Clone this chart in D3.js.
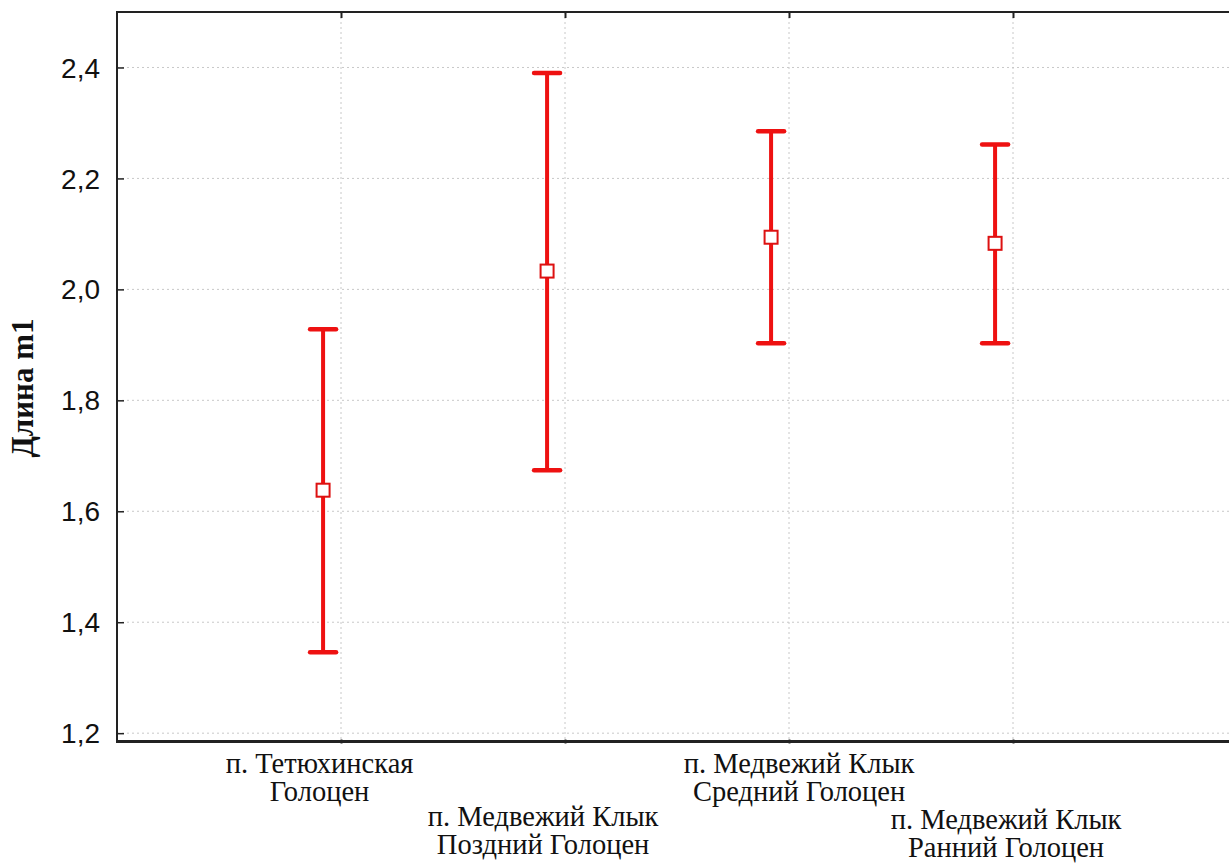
<!DOCTYPE html>
<html><head><meta charset="utf-8">
<script src="https://cdn.jsdelivr.net/npm/d3@7"></script>
<style>html,body{margin:0;padding:0;background:#fff;}svg{display:block;}</style>
</head><body>
<script>
const categories = [
  ["п. Тетюхинская", "Голоцен"],
  ["п. Медвежий Клык", "Поздний Голоцен"],
  ["п. Медвежий Клык", "Средний Голоцен"],
  ["п. Медвежий Клык", "Ранний Голоцен"]
];
const means = [1.638, 2.033, 2.094, 2.083];
const lower = [1.346, 1.674, 1.903, 1.903];
const upper = [1.928, 2.390, 2.285, 2.261];
const yTicks = [1.2, 1.4, 1.6, 1.8, 2.0, 2.2, 2.4];
const yTitle = "Длина m1";

(function () {
const W = 1229, H = 863;
const svg = d3.select("body").append("svg").attr("width", W).attr("height", H);
const pLeft = 117, pTop = 12, pBottom = 741.5;
const x = d3.scaleLinear().domain([0, 5]).range([pLeft, 1237]);
const y = d3.scaleLinear().domain([1.185, 2.5]).range([pBottom, pTop]);
const catPos = i => x(i + 1 - 0.08);
const fmt = v => d3.format(".1f")(v).replace(".", ",");

// grid
const grid = svg.append("g").attr("stroke", "#c8c8c8").attr("stroke-width", 1).attr("stroke-dasharray", "2,3");
grid.selectAll(".hg").data(yTicks).join("line")
  .attr("x1", pLeft).attr("x2", W).attr("y1", d => y(d)).attr("y2", d => y(d));
grid.selectAll(".vg").data([1, 2, 3, 4]).join("line")
  .attr("y1", pTop).attr("y2", pBottom).attr("x1", d => x(d)).attr("x2", d => x(d));

// Y axis
const yAxis = d3.axisRight(y).tickValues(yTicks).tickSize(7).tickFormat("");
const ya = svg.append("g").attr("transform", `translate(${pLeft},0)`).call(yAxis);
ya.select(".domain").remove();
ya.selectAll(".tick line").attr("stroke", "#222").attr("stroke-width", 1.5);
svg.append("g").selectAll("text").data(yTicks).join("text")
  .attr("x", 100).attr("y", d => y(d)).attr("dy", "0.36em")
  .attr("text-anchor", "end").attr("font-family", "Liberation Sans, Arial, sans-serif")
  .attr("font-size", 28).attr("fill", "#111").text(fmt);

// top and bottom x axes (ticks only)
const xTopAx = d3.axisBottom(x).tickValues([1, 2, 3, 4]).tickSize(6).tickFormat("");
const xt = svg.append("g").attr("transform", `translate(0,${pTop})`).call(xTopAx);
xt.select(".domain").remove();
xt.selectAll(".tick line").attr("stroke", "#222").attr("stroke-width", 2);
const xBotAx = d3.axisTop(x).tickValues([1, 2, 3, 4]).tickSize(4).tickFormat("");
const xb = svg.append("g").attr("transform", `translate(0,${pBottom + 2})`).call(xBotAx);
xb.select(".domain").remove();
xb.selectAll(".tick line").attr("stroke", "#222").attr("stroke-width", 2);

// frame lines
svg.append("line").attr("x1", pLeft).attr("x2", W).attr("y1", pTop).attr("y2", pTop).attr("stroke", "#222").attr("stroke-width", 2);
svg.append("line").attr("x1", pLeft).attr("x2", pLeft).attr("y1", pTop - 1).attr("y2", pBottom + 1).attr("stroke", "#222").attr("stroke-width", 2);
svg.append("line").attr("x1", pLeft - 1).attr("x2", W).attr("y1", pBottom).attr("y2", pBottom).attr("stroke", "#222").attr("stroke-width", 3);

// error bars
const red = "#ee1111";
const g = svg.append("g");
const idx = d3.range(means.length);
g.selectAll(".whisk").data(idx).join("line")
  .attr("x1", catPos).attr("x2", catPos)
  .attr("y1", i => y(lower[i])).attr("y2", i => y(upper[i]))
  .attr("stroke", red).attr("stroke-width", 4);
const capW = 13;
g.selectAll(".capu").data(idx).join("line")
  .attr("x1", i => catPos(i) - capW).attr("x2", i => catPos(i) + capW)
  .attr("y1", i => y(upper[i])).attr("y2", i => y(upper[i]))
  .attr("stroke", red).attr("stroke-width", 4.5).attr("stroke-linecap", "round");
g.selectAll(".capl").data(idx).join("line")
  .attr("x1", i => catPos(i) - capW).attr("x2", i => catPos(i) + capW)
  .attr("y1", i => y(lower[i])).attr("y2", i => y(lower[i]))
  .attr("stroke", red).attr("stroke-width", 4.5).attr("stroke-linecap", "round");
g.selectAll(".pt").data(idx).join("rect")
  .attr("x", i => catPos(i) - 6.5).attr("y", i => y(means[i]) - 6.5)
  .attr("width", 13).attr("height", 13)
  .attr("fill", "#fff").attr("stroke", "#dd1111").attr("stroke-width", 2);

// category labels (staggered), one text element per category
const labelDx = [-3.5, -4, 28, 11];
const labelBase = [773, 826, 773, 829];
const lab = svg.append("g").attr("font-family", "Liberation Serif, Times New Roman, serif")
  .attr("font-size", 28.5).attr("fill", "#111").attr("text-anchor", "middle");
categories.forEach((c, i) => {
  const t = lab.append("text").attr("x", catPos(i) + labelDx[i]).attr("y", labelBase[i]);
  c.forEach((line, j) => {
    t.append("tspan").attr("x", catPos(i) + labelDx[i]).attr("dy", j === 0 ? 0 : 28).text(line);
  });
});

// y title
svg.append("text").attr("transform", "translate(33,388) rotate(-90)")
  .attr("text-anchor", "middle").attr("font-family", "Liberation Serif, Times New Roman, serif")
  .attr("font-weight", "bold").attr("font-size", 31).attr("fill", "#111").text(yTitle);
})();
</script>
</body></html>
